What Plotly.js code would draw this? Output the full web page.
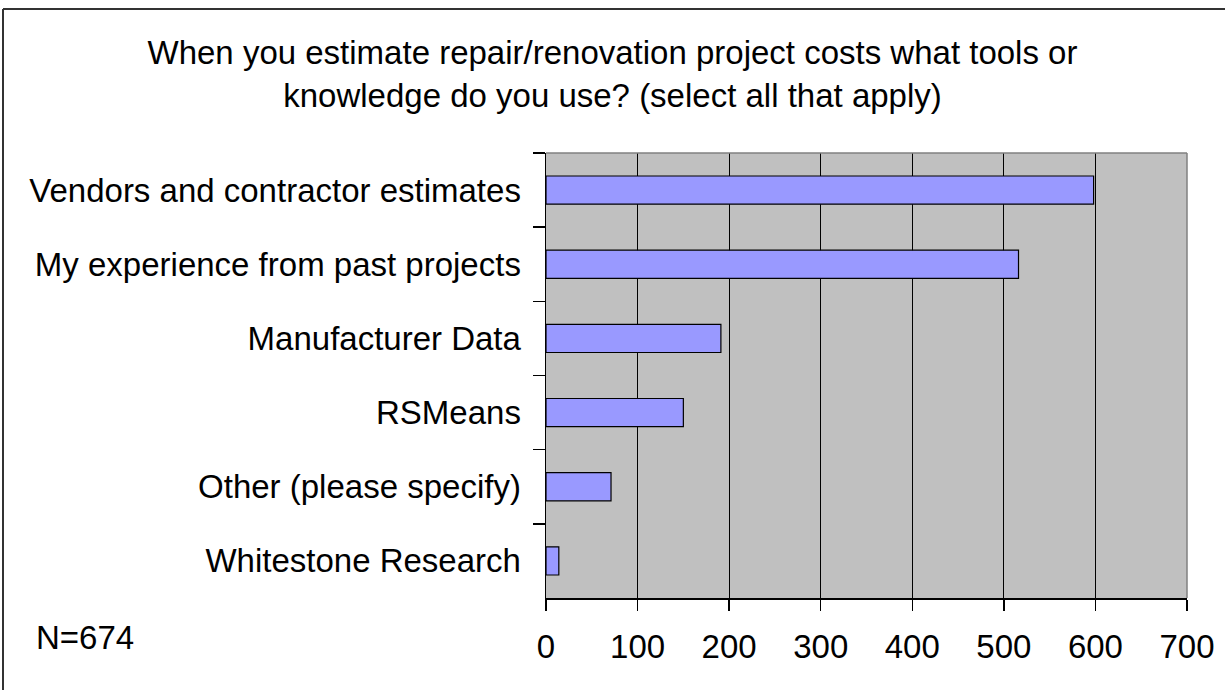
<!DOCTYPE html>
<html>
<head>
<meta charset="utf-8">
<script src="https://cdn.plot.ly/plotly-3.0.1.min.js"></script>
<style>html,body{margin:0;padding:0;background:#fff;}#chart{width:1225px;height:690px;}</style>
</head>
<body>
<div id="chart"></div>
<script>
const categories = [
  "Vendors and contractor estimates",
  "My experience from past projects",
  "Manufacturer Data",
  "RSMeans",
  "Other (please specify)",
  "Whitestone Research"
];
const counts = [598, 516, 191, 150, 71, 14];
const xTicks = [0, 100, 200, 300, 400, 500, 600, 700];
const titleText = "When you estimate repair/renovation project costs what tools or<br>knowledge do you use? (select all that apply)";
const noteText = "N=674";

const FONT = "Liberation Sans, Arial, sans-serif";
const FS = 33;

const trace = {
  type: "bar",
  orientation: "h",
  x: counts,
  y: categories,
  marker: { color: "#9999ff", line: { color: "#000000", width: 1.2 } },
  hoverinfo: "x+y"
};

const layout = {
  width: 1225,
  height: 690,
  margin: { l: 546, r: 38, t: 153, b: 92 },
  paper_bgcolor: "#ffffff",
  plot_bgcolor: "#c0c0c0",
  font: { family: FONT, size: FS, color: "#000" },
  showlegend: false,
  bargap: 0.62,
  title: {
    text: titleText,
    font: { family: FONT, size: FS, color: "#000" },
    x: 0.5, xref: "container", xanchor: "center",
    y: 1 - 64 / 690, yref: "container", yanchor: "top"
  },
  xaxis: {
    range: [0, 700],
    tickvals: xTicks,
    ticktext: xTicks.map(String),
    showgrid: true,
    gridcolor: "#000000",
    gridwidth: 1.2,
    zeroline: false,
    showline: true,
    linecolor: "#000000",
    linewidth: 1.5,
    ticks: "outside",
    ticklen: 11,
    tickwidth: 1.5,
    tickcolor: "#000",
    ticklabelstandoff: 8,
    tickfont: { family: FONT, size: FS, color: "#000" },
    fixedrange: true
  },
  yaxis: {
    type: "category",
    autorange: "reversed",
    showgrid: false,
    zeroline: false,
    showline: true,
    linecolor: "#000000",
    linewidth: 1.5,
    ticks: "outside",
    tickson: "boundaries",
    ticklen: 12,
    tickwidth: 1.5,
    tickcolor: "#000",
    ticklabelstandoff: 17,
    tickfont: { family: FONT, size: FS, color: "#000" },
    fixedrange: true
  },
  shapes: [
    { type: "line", xref: "paper", yref: "paper", x0: 0, x1: 1, y0: 1, y1: 1,
      line: { color: "#808080", width: 1.5 } },
    { type: "line", xref: "paper", yref: "paper", x0: 1, x1: 1, y0: 0, y1: 1,
      line: { color: "#808080", width: 1.5 } },
    { type: "line", xref: "paper", yref: "paper",
      x0: (3 - 546) / 641, x1: 1.1, y0: (598 - 9) / 445, y1: (598 - 9) / 445,
      line: { color: "#333333", width: 2 } },
    { type: "line", xref: "paper", yref: "paper",
      x0: (3 - 546) / 641, x1: (3 - 546) / 641, y0: -0.3, y1: (598 - 9) / 445,
      line: { color: "#333333", width: 2 } }
  ],
  annotations: [
    { text: noteText, xref: "paper", yref: "paper",
      x: (34 - 546) / 641, xanchor: "left",
      y: (598 - 637) / 445, yanchor: "middle",
      showarrow: false, font: { family: FONT, size: FS, color: "#000" } }
  ]
};

Plotly.newPlot("chart", [trace], layout, { displayModeBar: false, staticPlot: true });
</script>
</body>
</html>
